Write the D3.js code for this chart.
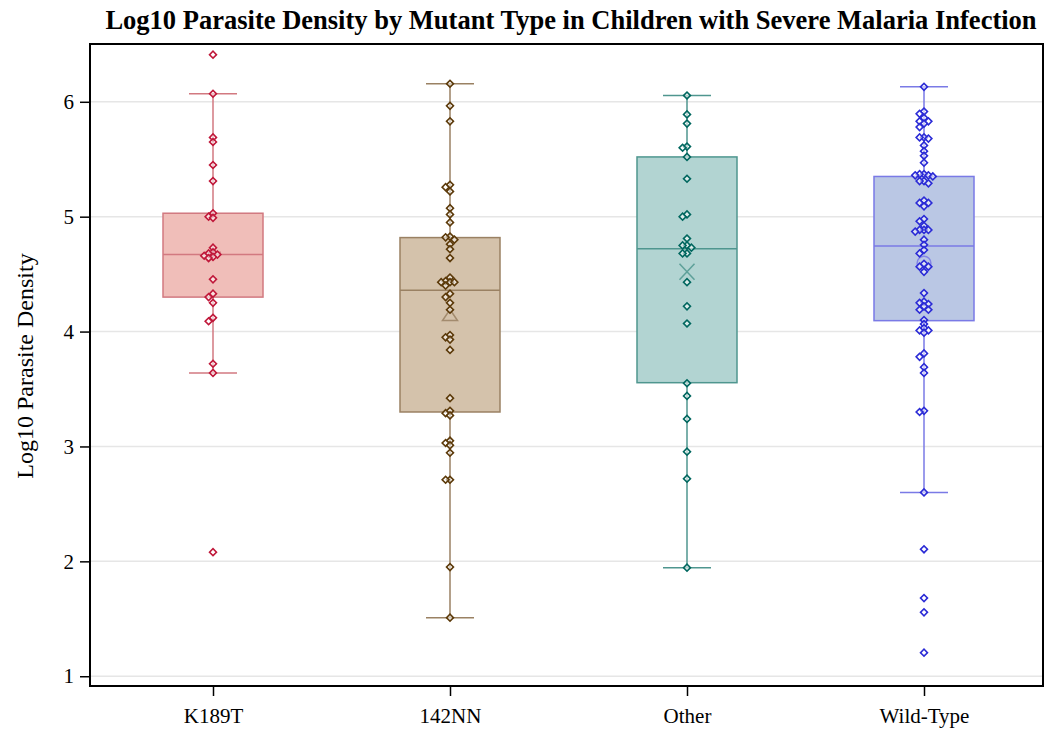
<!DOCTYPE html>
<html>
<head>
<meta charset="utf-8">
<script src="https://cdn.jsdelivr.net/npm/d3@7"></script>
<style>
    body { margin: 0; background: #fff; }
    text { font-family: "Liberation Serif", "Times New Roman", serif; fill: #000; }
</style>
</head>
<body>
<svg id="chart" width="1045" height="732"></svg>
<script>
// categories
const groups = ["K189T", "142NN", "Other", "Wild-Type"];

// log10 parasite density per child
const k189t = [6.41, 6.07, 5.69, 5.65, 5.45, 5.31, 5.03, 5.00, 4.99, 4.73, 4.69, 4.68, 4.67,
    4.66, 4.65, 4.64, 4.455, 4.33, 4.30, 4.25, 4.12, 4.09, 3.72, 3.64, 2.08];
const nn142 = [6.157, 5.965, 5.83, 5.277, 5.257, 5.22, 5.074, 5.02, 4.95, 4.827, 4.82, 4.80,
    4.76, 4.717, 4.64, 4.47, 4.44, 4.43, 4.43, 4.43, 4.40, 4.33, 4.30, 4.25, 4.19, 3.97, 3.95,
    3.93, 3.84, 3.42, 3.31, 3.29, 3.27, 3.05, 3.03, 3.01, 2.945, 2.71, 2.71, 1.95, 1.51];
const other = [6.055, 5.89, 5.81, 5.61, 5.60, 5.52, 5.33, 5.02, 5.00, 4.81, 4.75, 4.75, 4.73,
    4.68, 4.68, 4.43, 4.22, 4.07, 3.55, 3.44, 3.24, 2.955, 2.72, 1.945];
const wildType = [6.13, 5.915, 5.895, 5.86, 5.83, 5.83, 5.81, 5.78, 5.69, 5.69, 5.68, 5.62,
    5.57, 5.53, 5.47, 5.37, 5.36, 5.36, 5.37, 5.35, 5.31, 5.31, 5.29, 5.14, 5.12, 5.12, 5.09,
    4.98, 4.96, 4.92, 4.885, 4.885, 4.885, 4.87, 4.80, 4.755, 4.71, 4.68, 4.59, 4.565, 4.565,
    4.52, 4.335, 4.26, 4.25, 4.24, 4.22, 4.19, 4.19, 4.10, 4.065, 4.03, 4.01, 4.01, 3.99,
    3.81, 3.78, 3.69, 3.64, 3.31, 3.30, 2.60, 2.105, 1.68, 1.556, 1.205];

// box statistics, as drawn in the reference
const q1 = [4.30, 3.30, 3.555, 4.095];
const median = [4.67, 4.36, 4.72, 4.745];
const q3 = [5.03, 4.818, 5.52, 5.35];
const whiskerLo = [3.64, 1.51, 1.945, 2.60];
const whiskerHi = [6.07, 6.157, 6.055, 6.13];
const means = [4.69, 4.14, 4.52, 4.595];

const yTicks = [1, 2, 3, 4, 5, 6];

const values = [k189t, nn142, other, wildType];
const boxFill = ["#f0beb9", "#d4c2ab", "#b2d4d2", "#bac7e4"];
const boxLine = ["#d27980", "#9a8163", "#4f968f", "#7a7ae6"];
const markColor = ["#c0183a", "#5c3a0a", "#00675f", "#2b2bd6"];
const meanShape = ["plus", "triangle", "x", "circle"];

const svg = d3.select("#chart");
const plotL = 90, plotR = 1043, plotT = 44, plotB = 686;

const y = d3.scaleLinear().domain([0.915, 6.503]).range([plotB, plotT]);
const x = d3.scalePoint().domain(groups).range([213, 924]);
const boxW = 100, capW = 48;

// grid lines
svg.append("g").selectAll("line")
    .data(yTicks).enter().append("line")
    .attr("x1", plotL).attr("x2", plotR)
    .attr("y1", d => y(d)).attr("y2", d => y(d))
    .attr("stroke", "#e6e6e6").attr("stroke-width", 1.5);

let boxes = svg.append("g").selectAll("g")
    .data(groups).enter().append("g")
    .attr("transform", d => "translate(" + x(d) + ",0)");

// whiskers
boxes.append("line")
    .attr("x1", 0).attr("x2", 0)
    .attr("y1", (d, i) => y(whiskerHi[i])).attr("y2", (d, i) => y(whiskerLo[i]))
    .attr("stroke", (d, i) => boxLine[i]).attr("stroke-width", 1.5);
[whiskerHi, whiskerLo].forEach(function(w) {
    boxes.append("line")
        .attr("x1", -capW / 2).attr("x2", capW / 2)
        .attr("y1", (d, i) => y(w[i])).attr("y2", (d, i) => y(w[i]))
        .attr("stroke", (d, i) => boxLine[i]).attr("stroke-width", 1.5);
});

boxes.append("rect")
    .attr("x", -boxW / 2).attr("width", boxW)
    .attr("y", (d, i) => y(q3[i]))
    .attr("height", (d, i) => y(q1[i]) - y(q3[i]))
    .attr("fill", (d, i) => boxFill[i])
    .attr("stroke", (d, i) => boxLine[i]).attr("stroke-width", 1.5);

boxes.append("line")
    .attr("x1", -boxW / 2).attr("x2", boxW / 2)
    .attr("y1", (d, i) => y(median[i])).attr("y2", (d, i) => y(median[i]))
    .attr("stroke", (d, i) => boxLine[i]).attr("stroke-width", 1.5);

// mean markers
boxes.append("path")
    .attr("transform", (d, i) => "translate(0," + y(means[i]) + ")")
    .attr("d", function(d, i) {
        let s = meanShape[i];
        if (s == "triangle") return "M0,-6L7.5,5L-7.5,5Z";
        if (s == "x") return "M-7.5,-8L7.5,8M-7.5,8L7.5,-8";
        if (s == "plus") return "M-8,0L8,0M0,-8L0,8";
        return d3.symbol(d3.symbolCircle, 150)();
    })
    .attr("fill", "none")
    .attr("stroke", (d, i) => boxLine[i])
    .attr("stroke-opacity", 0.85)
    .attr("stroke-width", 1.5);

// jittered points: nudge sideways only where markers would overlap
function jitter(vals) {
    let placed = [];
    let offsets = [0, -4.4, 4.4, -8.8, 8.8, -13.2, 13.2, -17.6, 17.6];
    vals.slice().sort((a, b) => b - a).forEach(function(v) {
        let py = y(v);
        let dx = offsets.find(o => !placed.some(p => Math.abs(p.dx - o) < 4 && Math.abs(p.py - py) < 3.5));
        placed.push({ v: v, py: py, dx: dx === undefined ? 0 : dx });
    });
    return placed;
}

let diamond = d3.symbol(d3.symbolSquare, 24)();
boxes.each(function(g, i) {
    d3.select(this).selectAll("path.pt")
        .data(jitter(values[i])).enter().append("path")
        .classed("pt", true)
        .attr("d", diamond)
        .attr("transform", d => "translate(" + d.dx + "," + d.py + ") rotate(45)")
        .attr("fill", "#fff").attr("fill-opacity", 0.55)
        .attr("stroke", markColor[i]).attr("stroke-width", 1.6);
});

// frame
svg.append("rect")
    .attr("x", plotL).attr("y", plotT)
    .attr("width", plotR - plotL).attr("height", plotB - plotT)
    .attr("fill", "none").attr("stroke", "#000").attr("stroke-width", 2);

// axes
let yAxis = svg.append("g")
    .attr("transform", "translate(" + plotL + ",0)")
    .call(d3.axisLeft(y).tickValues(yTicks).tickFormat(d3.format("d")).tickSize(10).tickPadding(6));
let xAxis = svg.append("g")
    .attr("transform", "translate(0," + plotB + ")")
    .call(d3.axisBottom(x).tickSize(10).tickPadding(12));
[yAxis, xAxis].forEach(function(a) {
    a.select(".domain").remove();
    a.selectAll("line").attr("stroke", "#000").attr("stroke-width", 1.5);
    a.selectAll("text")
        .style("font-family", "Liberation Serif, serif")
        .style("font-size", "21px").attr("fill", "#000");
});

svg.append("text")
    .attr("transform", "translate(33," + ((plotT + plotB) / 2 + 1) + ") rotate(-90)")
    .attr("text-anchor", "middle")
    .style("font-size", "24px")
    .text("Log10 Parasite Density");

let title = svg.append("text")
    .attr("x", 571).attr("y", 29)
    .attr("text-anchor", "middle")
    .style("font-size", "22px").style("font-weight", "bold")
    .text("Log10 Parasite Density by Mutant Type in Children with Severe Malaria Infection");
let tw = title.node().getComputedTextLength();
title.style("font-size", (22 * 932 / tw) + "px");
</script>
</body>
</html>
